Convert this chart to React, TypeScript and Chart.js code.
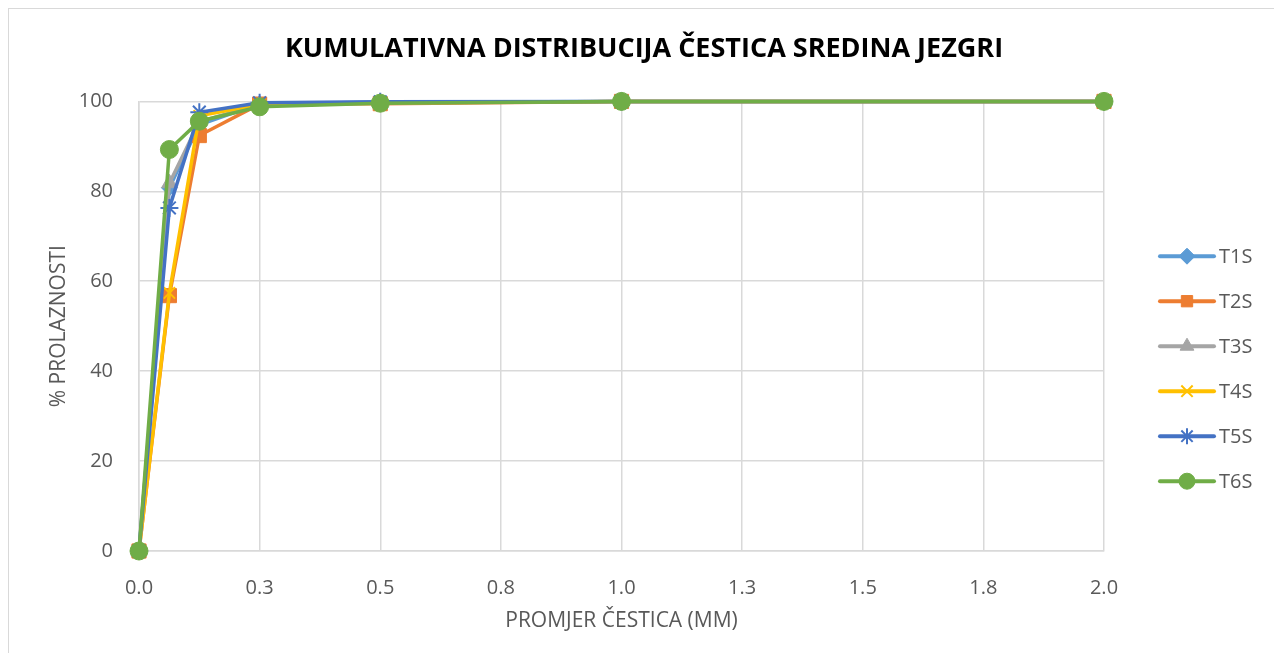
import React, { useEffect, useRef } from 'react';
import { Chart, registerables } from 'chart.js';
import { drawPoint } from 'chart.js/helpers';

Chart.register(...registerables);

// Particle diameter (mm)
const sizes = [0, 0.063, 0.125, 0.25, 0.5, 1, 2];
const seriesNames = ['T1S', 'T2S', 'T3S', 'T4S', 'T5S', 'T6S'];
const t1s = [0, 80.8, 94.8, 99.5, 99.8, 100, 100];
const t2s = [0, 56.8, 92.4, 99.4, 99.5, 100, 100];
const t3s = [0, 81.8, 95.5, 99.3, 99.7, 100, 100];
const t4s = [0, 57.4, 96.8, 99.3, 99.7, 100, 100];
const t5s = [0, 76.3, 97.6, 99.7, 99.9, 100, 100];
const t6s = [0, 89.3, 95.6, 98.8, 99.6, 100, 100];
const seriesValues = [t1s, t2s, t3s, t4s, t5s, t6s];

const seriesColors = ['#5B9BD5', '#ED7D31', '#A5A5A5', '#FFC000', '#4472C4', '#70AD47'];
const seriesMarkers = ['rectRot', 'rect', 'triangle', 'crossRot', 'star', 'circle'];
const markerRadius = [8, 10, 9, 8, 9, 9];

const titleText = 'KUMULATIVNA DISTRIBUCIJA ČESTICA SREDINA JEZGRI';
const xTitle = 'PROMJER ČESTICA (MM)';
const yTitle = '% PROLAZNOSTI';

const FONT = "'Open Sans', 'Liberation Sans', sans-serif";
const TEXT_GRAY = '#595959';
const GRID = '#D9D9D9';

const isStroked = (s: string) => s === 'star' || s === 'crossRot';

const sideLegend = {
  id: 'sideLegend',
  afterDraw(chart: any) {
    const { ctx, chartArea } = chart;
    const spacing = 45;
    const n = chart.data.datasets.length;
    const centerY = (chartArea.top + chartArea.bottom) / 2 + 42.5;
    const startY = centerY - ((n - 1) / 2) * spacing;
    const x0 = chartArea.right + 56;
    const x1 = chartArea.right + 110;
    const xm = (x0 + x1) / 2;
    ctx.save();
    chart.data.datasets.forEach((ds: any, i: number) => {
      const y = startY + i * spacing;
      ctx.strokeStyle = ds.borderColor;
      ctx.lineWidth = 4;
      ctx.lineCap = 'round';
      ctx.beginPath();
      ctx.moveTo(x0, y);
      ctx.lineTo(x1, y);
      ctx.stroke();
      ctx.fillStyle = ds.borderColor;
      ctx.strokeStyle = ds.borderColor;
      ctx.lineWidth = isStroked(ds.pointStyle) ? 2 : 1;
      ctx.lineCap = 'butt';
      drawPoint(ctx, { pointStyle: ds.pointStyle, radius: 8, rotation: 0, borderWidth: ctx.lineWidth }, xm, y);
      ctx.fillStyle = TEXT_GRAY;
      ctx.font = `20px ${FONT}`;
      ctx.textBaseline = 'middle';
      ctx.textAlign = 'left';
      ctx.fillText(ds.label, x1 + 5, y + 1);
    });
    ctx.restore();
  },
};

export default function App() {
  const canvasRef = useRef<HTMLCanvasElement | null>(null);

  useEffect(() => {
    if (!canvasRef.current) return;
    const datasets = seriesNames.map((name, i) => ({
      label: name,
      data: sizes.map((x, j) => ({ x, y: seriesValues[i][j] })),
      borderColor: seriesColors[i],
      backgroundColor: seriesColors[i],
      pointBackgroundColor: seriesColors[i],
      pointBorderColor: seriesColors[i],
      pointStyle: seriesMarkers[i],
      pointRadius: markerRadius[i],
      pointBorderWidth: isStroked(seriesMarkers[i]) ? 2 : 1,
      borderWidth: 3.5,
      tension: 0,
      fill: false,
      clip: false,
      yAxisID: 'y',
      order: seriesNames.length - 1 - i,
    }));

    const chart = new Chart(canvasRef.current, {
      type: 'line',
      data: { datasets },
      plugins: [sideLegend],
      options: {
        animation: false,
        responsive: true,
        maintainAspectRatio: false,
        layout: { padding: 0 },
        plugins: {
          legend: { display: false },
          tooltip: { enabled: false },
          title: {
            display: true,
            text: titleText,
            color: '#000000',
            font: { family: FONT, size: 27, weight: 'bold' },
            padding: { top: 24, bottom: 36 },
          },
        },
        scales: {
          x: {
            type: 'linear',
            min: 0,
            max: 2,
            ticks: {
              stepSize: 0.25,
              color: TEXT_GRAY,
              font: { family: FONT, size: 20 },
              padding: 25,
              maxRotation: 0,
              callback: (v: any) => Number(v).toFixed(1),
            },
            grid: { color: GRID, lineWidth: 1.5, drawTicks: false },
            border: { color: GRID, width: 1.5 },
            title: {
              display: true,
              text: xTitle,
              color: TEXT_GRAY,
              font: { family: FONT, size: 21 },
              padding: { top: 0, bottom: 19 },
            },
            afterFit: (scale: any) => { scale.height = 102; },
          },
          y: {
            min: 0,
            max: 100,
            ticks: {
              stepSize: 20,
              color: TEXT_GRAY,
              font: { family: FONT, size: 20 },
              padding: 26,
            },
            grid: { color: GRID, lineWidth: 1.5, drawTicks: false },
            border: { color: GRID, width: 1.5 },
            title: {
              display: true,
              text: yTitle,
              color: TEXT_GRAY,
              font: { family: FONT, size: 21 },
              padding: { top: 37, bottom: 0 },
            },
            afterFit: (scale: any) => { scale.width = 130; },
          },
          legendSpace: {
            type: 'linear',
            position: 'right',
            display: true,
            ticks: { display: false },
            grid: { display: false, drawTicks: false },
            border: { display: false },
            afterFit: (scale: any) => { scale.width = 175; },
          },
        },
      },
    });
    return () => chart.destroy();
  }, []);

  return (
    <div
      style={{
        position: 'relative',
        width: 1270,
        height: 644,
        borderTop: '1px solid #D9D9D9',
        borderLeft: '1px solid #D9D9D9',
        borderRight: '1px solid #D9D9D9',
        background: '#ffffff',
      }}
    >
      <canvas ref={canvasRef} />
    </div>
  );
}
